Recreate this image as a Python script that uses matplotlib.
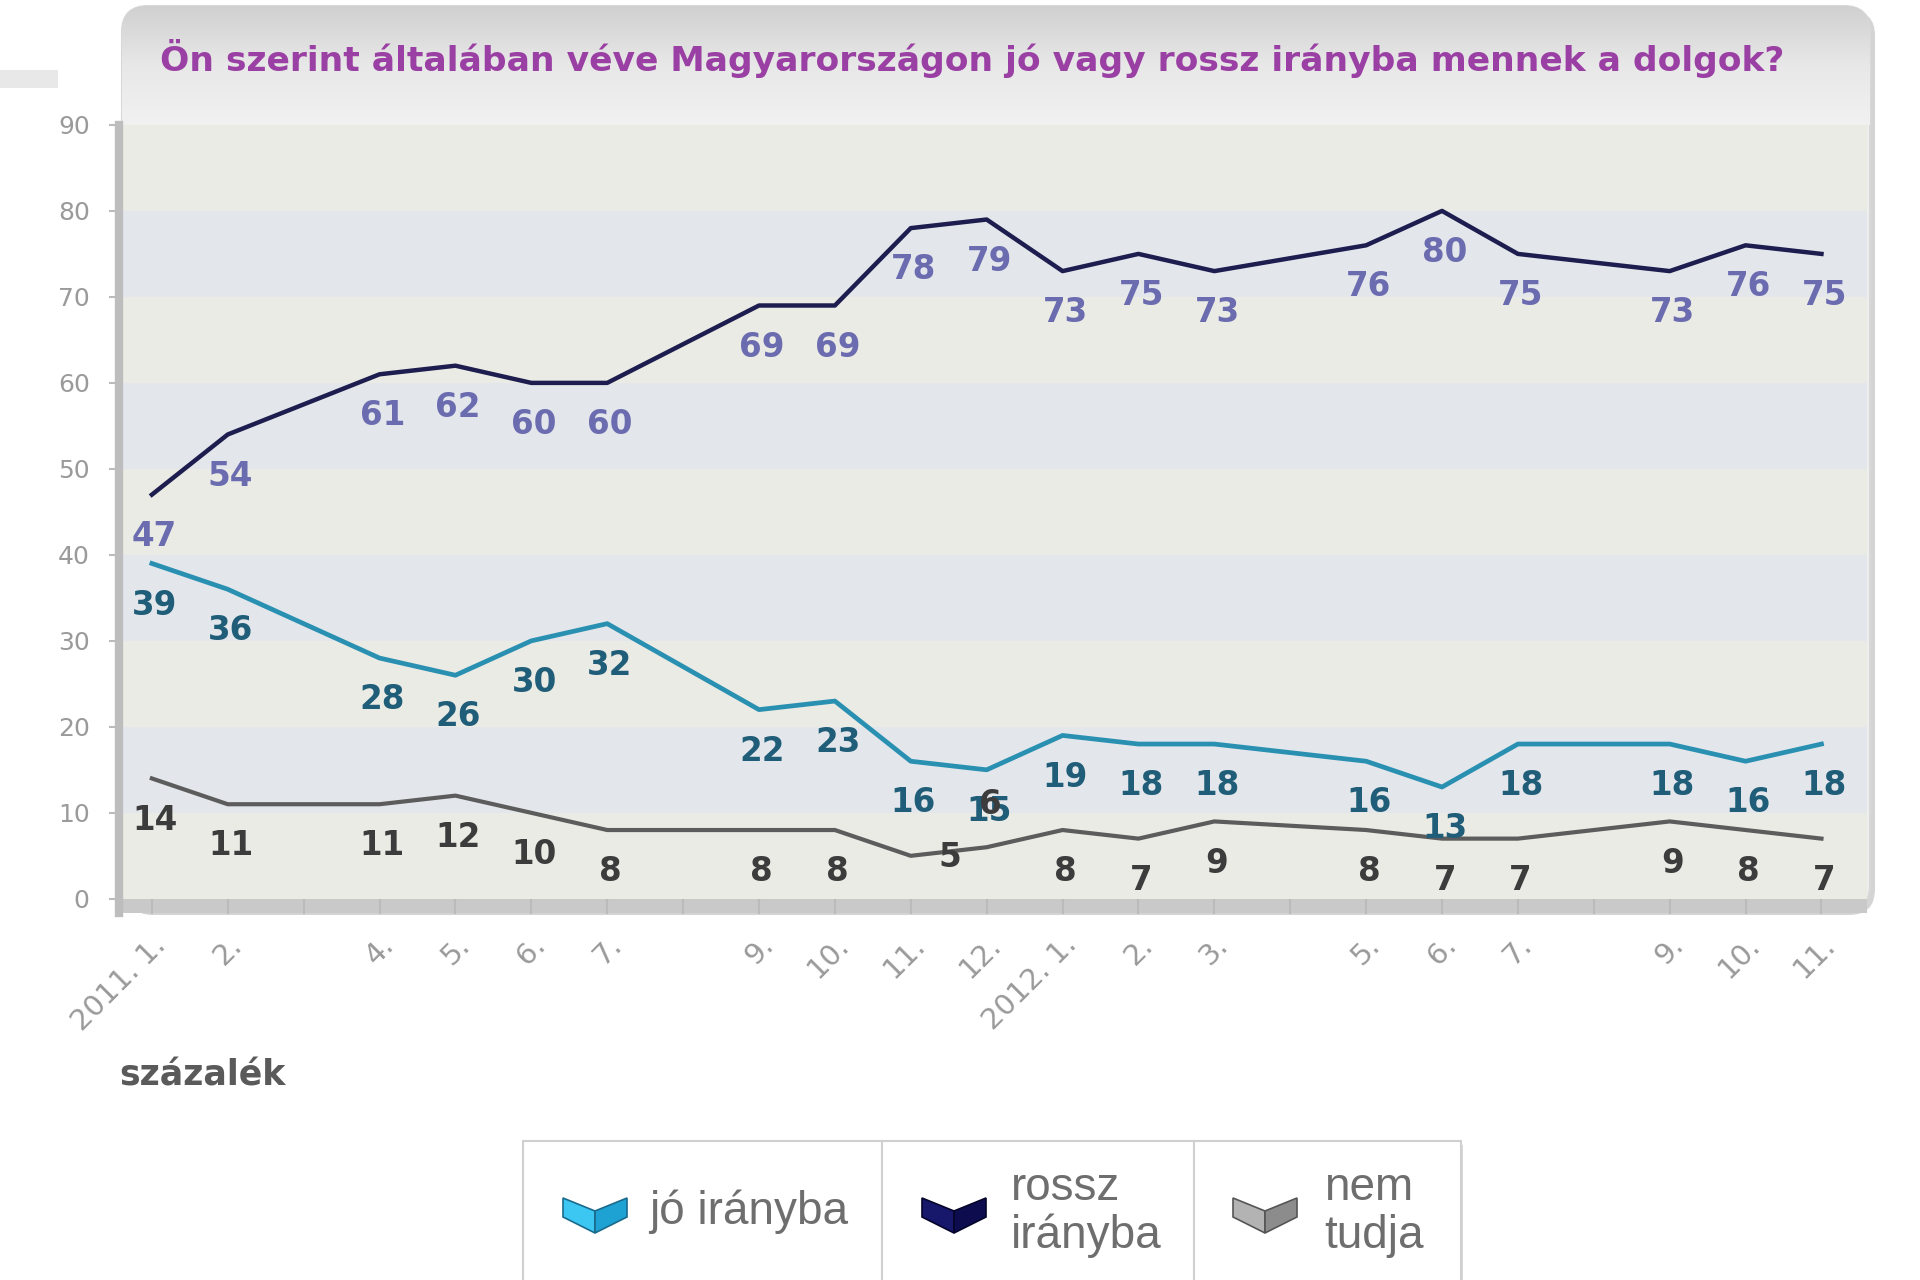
import matplotlib
matplotlib.use("Agg")
import matplotlib.pyplot as plt
import numpy as np
from matplotlib.patches import FancyBboxPatch, Rectangle, Polygon
from matplotlib.colors import LinearSegmentedColormap

# --- data -------------------------------------------------------------
months = ["2011. 1.", "2.", "3.", "4.", "5.", "6.", "7.", "8.", "9.", "10.", "11.", "12.",
          "2012. 1.", "2.", "3.", "4.", "5.", "6.", "7.", "8.", "9.", "10.", "11."]
# months without a survey get no tick label
tick_labels = ["2011. 1.", "2.", "", "4.", "5.", "6.", "7.", "", "9.", "10.", "11.", "12.",
               "2012. 1.", "2.", "3.", "", "5.", "6.", "7.", "", "9.", "10.", "11."]
survey_idx = [0, 1, 3, 4, 5, 6, 8, 9, 10, 11, 12, 13, 14, 16, 17, 18, 20, 21, 22]

rossz = [47, 54, 61, 62, 60, 60, 69, 69, 78, 79, 73, 75, 73, 76, 80, 75, 73, 76, 75]
jo = [39, 36, 28, 26, 30, 32, 22, 23, 16, 15, 19, 18, 18, 16, 13, 18, 18, 16, 18]
nem = [14, 11, 11, 12, 10, 8, 8, 8, 5, 6, 8, 7, 9, 8, 7, 7, 9, 8, 7]

title = "Ön szerint általában véve Magyarországon jó vagy rossz irányba mennek a dolgok?"
legend_names = ["jó irányba", "rossz\nirányba", "nem\ntudja"]

fig = plt.figure(figsize=(19.2, 12.8), dpi=100)
fig.patch.set_facecolor("white")

# background layer in pixel coordinates (panel, legend, decorations)
bg = fig.add_axes([0, 0, 1, 1], zorder=0)
bg.set_xlim(0, 1920)
bg.set_ylim(1280, 0)
bg.axis("off")

# panel shadow + panel
bg.add_patch(FancyBboxPatch((127, 10), 1748, 905, boxstyle="round,pad=0,rounding_size=26",
                            fc="#d4d4d4", ec="none"))
panel = FancyBboxPatch((122, 6), 1748, 905, boxstyle="round,pad=0,rounding_size=26",
                       fc="#eeeeee", ec="#d8d8d8", lw=1.5)
bg.add_patch(panel)
grad = np.linspace(0, 1, 200).reshape(-1, 1)
hdr = LinearSegmentedColormap.from_list("hdr", ["#d0d0d0", "#e8e8e8", "#f1f1f1"])
im = bg.imshow(grad, extent=(122, 1870, 125, 6), cmap=hdr, aspect="auto", zorder=1)
im.set_clip_path(panel)
bg.add_patch(Rectangle((0, 70), 58, 18, fc="#e8e8e8", ec="none"))

bg.text(972, 58, title, ha="center", va="center", fontsize=24.8, fontweight="bold",
        color="#9a3fa3", zorder=3)

# --- main plot --------------------------------------------------------
ax = fig.add_axes([0.0619, 0.2978, 0.9105, 0.6046], zorder=1)
ax.set_xlim(-0.435, 22.6)
ax.set_ylim(0, 90)
ax.set_facecolor("none")
for k in range(9):
    ax.axhspan(k * 10, k * 10 + 10, color="#ebebe5" if k % 2 == 0 else "#e3e7eb", lw=0, zorder=0)
ax.axhspan(-1.6, 0, color="#c9c9c9", lw=0, clip_on=False, zorder=0.5)

x_all = np.arange(len(months))
xs = [x_all[i] for i in survey_idx]

ax.plot(xs, rossz, color="#1d1d4f", lw=3.2, zorder=3)
ax.plot(xs, jo, color="#2a90b1", lw=3.4, zorder=3)
ax.plot(xs, nem, color="#5c5c5c", lw=3.0, zorder=3)

lab_kw = dict(textcoords="offset points", ha="center", va="center", fontsize=23.5,
              fontweight="bold", zorder=4)
for x, v in zip(xs, rossz):
    ax.annotate(str(v), (x, v), xytext=(2, -30), color="#6b6bb0", **lab_kw)
for x, v in zip(xs, jo):
    ax.annotate(str(v), (x, v), xytext=(2, -30), color="#1f5d78", **lab_kw)
for x, v in zip(xs, nem):
    off = (2, -30)
    if x == 10:      # 2011. 11. label pushed right in the original
        off = (28, -1)
    elif x == 11:    # 2011. 12. label sits above the line
        off = (3, 31)
    ax.annotate(str(v), (x, v), xytext=off, color="#3c3c3c", **lab_kw)

ax.set_yticks(range(0, 91, 10))
ax.set_xticks(x_all)
ax.set_xticklabels(tick_labels, rotation=45, ha="right", va="top", rotation_mode="anchor")
ax.tick_params(axis="y", colors="#bbbbbb", labelcolor="#9a9a9a", labelsize=18, length=7,
               width=1.5, pad=14)
ax.tick_params(axis="x", colors="#bbbbbb", labelcolor="#9a9a9a", labelsize=21, length=11,
               width=1.5, pad=12)
for s in ["top", "right", "bottom"]:
    ax.spines[s].set_visible(False)
ax.spines["left"].set_color("#bdbdbd")
ax.spines["left"].set_linewidth(6)
ax.spines["left"].set_bounds(-1.6, 90)

bg.text(119, 1075, "százalék", ha="left", va="center", fontsize=25, fontweight="bold",
        color="#5a5a5a", zorder=3)

# --- legend -----------------------------------------------------------
bg.add_patch(Rectangle((525, 1145), 938, 160, fc="#d9d9d9", ec="none", zorder=2))
bg.add_patch(Rectangle((523, 1141), 938, 160, fc="white", ec="#d0d0d0", lw=1.5, zorder=3))
for xd in [882, 1194]:
    bg.plot([xd, xd], [1141, 1280], color="#d0d0d0", lw=1.5, zorder=4)

icon_colors = [("#3cc6f2", "#1ea2d3", "#1a6a8c"),
               ("#17176c", "#0c0c4e", "#05052c"),
               ("#b3b3b3", "#8c8c8c", "#555555")]
icon_x = [595, 954, 1265]
text_x = [649, 1011, 1324]
for cx, tx, name, (c1, c2, ce) in zip(icon_x, text_x, legend_names, icon_colors):
    cy = 1214
    left = [(cx - 32, cy - 16), (cx, cy - 3), (cx, cy + 19), (cx - 32, cy + 3)]
    right = [(cx, cy - 3), (cx + 32, cy - 16), (cx + 32, cy + 3), (cx, cy + 19)]
    bg.add_patch(Polygon(left, closed=True, fc=c1, ec=ce, lw=1.2, zorder=5))
    bg.add_patch(Polygon(right, closed=True, fc=c2, ec=ce, lw=1.2, zorder=5))
    bg.text(tx, 1212, name, ha="left", va="center", fontsize=33, family="Liberation Sans",
            color="#6e6e6e", linespacing=1.1, zorder=5)

fig.savefig("out.png", dpi=100)
